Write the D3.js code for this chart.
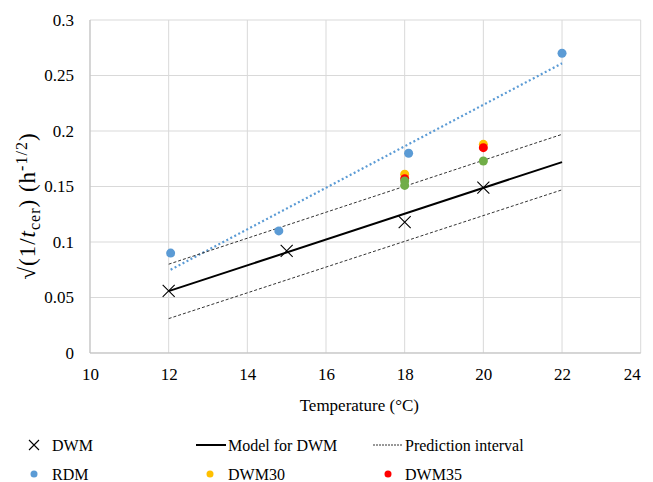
<!DOCTYPE html>
<html>
<head>
<meta charset="utf-8">
<script src="https://cdn.jsdelivr.net/npm/d3@7"></script>
<style>
  body { margin: 0; background: #fff; }
</style>
</head>
<body>
<div class="chart"></div>
<script>
// data
var xTicks = [10, 12, 14, 16, 18, 20, 22, 24];
var yTicks = [0, 0.05, 0.1, 0.15, 0.2, 0.25, 0.3];

var dwmX = [12, 15, 18, 20];
var dwmY = [0.056, 0.092, 0.118, 0.149];

var rdmX = [12.05, 14.8, 18.1, 22];
var rdmY = [0.090, 0.110, 0.180, 0.270];
var rdmTrendX = [12.05, 22];
var rdmTrendY = [0.075, 0.261];

var modelX = [12, 22];
var modelY = [0.0557, 0.172];
var upperY = [0.080, 0.197];
var lowerY = [0.031, 0.147];

var dwm30X = [18, 20];
var dwm30Y = [0.161, 0.188];
var dwm35X = [18, 20];
var dwm35Y = [0.157, 0.185];
var greenX = [18, 18, 20];
var greenY = [0.155, 0.151, 0.173];

var w = 653, h = 482;
var padLeft = 90, padRight = 640.7, padTop = 20, padBottom = 353;
var FONT = "Liberation Serif";

var svg = d3.select(".chart").append("svg")
    .attr("width", w).attr("height", h);

var xScale = d3.scaleLinear().domain([10, 24]).range([padLeft, padRight]);
var yScale = d3.scaleLinear().domain([0, 0.3]).range([padBottom, padTop]);

// gridlines
svg.append("g").selectAll("line").data(xTicks).enter().append("line")
    .attr("x1", d => xScale(d)).attr("x2", d => xScale(d))
    .attr("y1", padTop).attr("y2", padBottom)
    .attr("stroke", "#d9d9d9").attr("stroke-width", 1);
svg.append("g").selectAll("line").data(yTicks).enter().append("line")
    .attr("x1", padLeft).attr("x2", padRight)
    .attr("y1", d => yScale(d)).attr("y2", d => yScale(d))
    .attr("stroke", "#d9d9d9").attr("stroke-width", 1);
// axis lines
svg.append("line").attr("x1", padLeft).attr("x2", padRight).attr("y1", padBottom).attr("y2", padBottom)
    .attr("stroke", "#bfbfbf");
svg.append("line").attr("x1", padLeft).attr("x2", padLeft).attr("y1", padTop).attr("y2", padBottom)
    .attr("stroke", "#bfbfbf");

// axes (labels only)
var xAxis = d3.axisBottom(xScale).tickValues(xTicks).tickSize(0).tickPadding(15).tickFormat(d3.format("d"));
var gx = svg.append("g").attr("transform", `translate(0,${padBottom})`).call(xAxis);
gx.select(".domain").remove();
gx.selectAll("text").attr("font-family", FONT).attr("font-size", 17).attr("fill", "#000");
gx.selectAll("text").filter(d => d == 24).attr("dx", -9);

var yAxis = d3.axisLeft(yScale).tickValues(yTicks).tickSize(0).tickPadding(16).tickFormat(d => d === 0 ? "0" : String(d));
var gy = svg.append("g").attr("transform", `translate(${padLeft},0)`).call(yAxis);
gy.select(".domain").remove();
gy.selectAll("text").attr("font-family", FONT).attr("font-size", 17).attr("fill", "#000");

// axis titles
svg.append("text").attr("x", (padLeft + padRight) / 2 - 6).attr("y", 411)
    .attr("text-anchor", "middle").attr("font-family", FONT).attr("font-size", 17)
    .text("Temperature (°C)");

var yt = svg.append("text").attr("transform", "translate(35,206) rotate(-90)")
    .attr("text-anchor", "middle").attr("font-family", FONT).attr("font-size", 23)
    .attr("letter-spacing", 1);
yt.append("tspan").text("√(1/");
yt.append("tspan").attr("font-style", "italic").text("t");
yt.append("tspan").attr("dy", 5).attr("font-size", 16).text("cer");
yt.append("tspan").attr("dy", -5).text(") (h");
yt.append("tspan").attr("dy", -8).attr("font-size", 16).text("-1/2");
yt.append("tspan").attr("dy", 8).text(")");

var line = d3.line().x(d => xScale(d[0])).y(d => yScale(d[1]));

// RDM trend (dotted blue)
svg.append("path").datum(d3.zip(rdmTrendX, rdmTrendY)).attr("d", line)
    .attr("fill", "none").attr("stroke", "#5b9bd5").attr("stroke-width", 2.2)
    .attr("stroke-dasharray", "2,2.5");

// prediction interval
[upperY, lowerY].forEach(function(ys) {
    svg.append("path").datum(d3.zip(modelX, ys)).attr("d", line)
        .attr("fill", "none").attr("stroke", "#333").attr("stroke-width", 1)
        .attr("stroke-dasharray", "3,2");
});
// model
svg.append("path").datum(d3.zip(modelX, modelY)).attr("d", line)
    .attr("fill", "none").attr("stroke", "#000").attr("stroke-width", 2);

function dots(xs, ys, color) {
    svg.append("g").selectAll("circle").data(d3.zip(xs, ys)).enter().append("circle")
        .attr("cx", d => xScale(d[0])).attr("cy", d => yScale(d[1]))
        .attr("r", 4.5).attr("fill", color);
}
dots(rdmX, rdmY, "#5b9bd5");
dots(dwm30X, dwm30Y, "#ffc000");
dots(dwm35X, dwm35Y, "#ff0000");
dots(greenX, greenY, "#70ad47");

function cross(g, cx, cy, s) {
    g.append("path").attr("d", `M${cx - s},${cy - s}L${cx + s},${cy + s}M${cx - s},${cy + s}L${cx + s},${cy - s}`)
        .attr("stroke", "#000").attr("stroke-width", 1.1).attr("fill", "none");
}
var gc = svg.append("g");
d3.zip(dwmX, dwmY).forEach(d => cross(gc, xScale(d[0]), yScale(d[1]), 6));

// legend
var lg = svg.append("g").attr("font-family", FONT).attr("font-size", 16);
var row1 = 446, row2 = 475;
cross(lg, 34, row1 - 1, 5);
lg.append("text").attr("x", 52).attr("y", row1 + 5).text("DWM");
lg.append("line").attr("x1", 196).attr("x2", 226).attr("y1", row1 - 1).attr("y2", row1 - 1)
    .attr("stroke", "#000").attr("stroke-width", 2);
lg.append("text").attr("x", 228).attr("y", row1 + 5).text("Model for DWM");
lg.append("line").attr("x1", 373).attr("x2", 403).attr("y1", row1 - 1).attr("y2", row1 - 1)
    .attr("stroke", "#333").attr("stroke-width", 1).attr("stroke-dasharray", "2,1");
lg.append("text").attr("x", 405).attr("y", row1 + 5).text("Prediction interval");

lg.append("circle").attr("cx", 34).attr("cy", row2 - 1).attr("r", 3.5).attr("fill", "#5b9bd5");
lg.append("text").attr("x", 52).attr("y", row2 + 5).text("RDM");
lg.append("circle").attr("cx", 210).attr("cy", row2 - 1).attr("r", 3.5).attr("fill", "#ffc000");
lg.append("text").attr("x", 228).attr("y", row2 + 5).text("DWM30");
lg.append("circle").attr("cx", 388).attr("cy", row2 - 1).attr("r", 3.5).attr("fill", "#ff0000");
lg.append("text").attr("x", 405).attr("y", row2 + 5).text("DWM35");
</script>
</body>
</html>
